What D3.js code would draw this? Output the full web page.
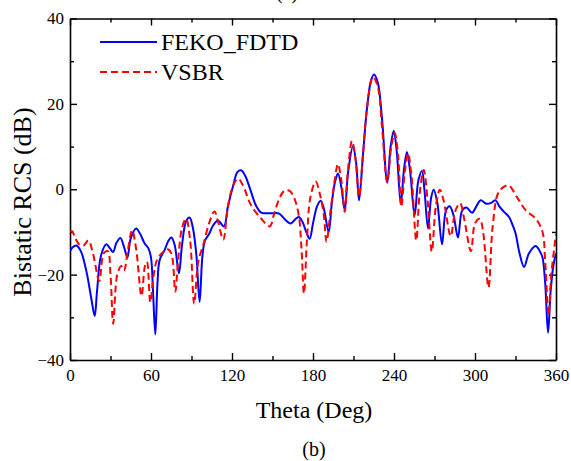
<!DOCTYPE html>
<html>
<head>
<meta charset="utf-8">
<script src="https://cdn.jsdelivr.net/npm/d3@7"></script>
<style>
  html, body { margin: 0; padding: 0; background: #fff; }
  svg { display: block; }
  text { font-family: "Liberation Serif", "Times New Roman", serif; fill: #000; }
</style>
</head>
<body>
<svg id="chart" width="571" height="461"></svg>
<script>
// ---- Data ----
const seriesNames = ["FEKO_FDTD", "VSBR"];
const xTicks = [0, 60, 120, 180, 240, 300, 360];
const yTicks = [-40, -20, 0, 20, 40];

const fekoTheta = [0, 2, 4.7, 8, 12, 16, 18.3, 20, 23, 26.9, 29.5, 31.9, 34.5, 37.3, 40, 42.5, 45, 49,
  52, 55.3, 58, 60, 61.5, 63.2, 64.8, 66.4, 70, 73, 75.1, 77.5, 80.7, 83, 86, 88.6, 91, 93.5, 96, 98,
  100, 103, 106, 109.6, 114, 117, 121, 124, 126.9, 130, 134, 138, 141.7, 145, 150, 155, 159, 163.5,
  167, 169.4, 172, 175, 177.5, 180, 183, 185.7, 188, 191.6, 194, 196.5, 198.5, 201, 203.5, 206, 209.6,
  212, 214.1, 217, 220, 223, 225.2, 228, 231, 235, 237.5, 239.8, 242, 245, 247.5, 249.6, 252, 255.3,
  258, 260.7, 262.5, 265.2, 267.5, 269.4, 272, 275.6, 278.5, 281.2, 284, 287.4, 290.5, 293.6, 297.8,
  301, 304.2, 308.4, 312, 315.3, 318, 321.5, 325.2, 328, 330.1, 333, 336.3, 340, 344.9, 348, 350, 352,
  354.1, 356, 358, 360];
const fekoRCS = [-14.5, -13.6, -13.2, -14.5, -19, -26, -29.7, -24, -15.5, -12.9, -13.8, -14.7, -12.5, -11.4, -13.5, -16, -11.5, -9.2,
  -10.5, -12.7, -13.8, -16, -24, -34, -22, -16.6, -14.3, -12, -11.3, -13, -19.7, -13, -7.5, -6.6, -9, -15, -26.4, -16,
  -12, -10.5, -8.5, -7.3, -8.7, -4, 1, 4, 4.4, 3, -0.5, -4, -5.5, -5.6, -5.6, -5.7, -7, -8,
  -7, -6.5, -7.5, -10, -11.6, -8, -4, -2.7, -4.5, -10, -3, 2, 3.7, 0.5, -4.9, 4, 10.1,
  6, -2.6, 8, 19, 25.5, 26.9, 25, 17, 1.5, 10, 13.7, 9, -3.4, 5, 8.7, 4, -6.1,
  2, 4.3, 0, -9.2, -2, -0.1, -3, -12.9, -5, -4, -6, -11.3, -5, -4.3, -5.5,
  -4, -2.6, -3.4, -3.2, -2.6, -4, -5.3, -6.5, -8.5, -10.4, -15, -18.2, -15, -13.3, -14.5, -16, -22,
  -33.6, -24, -18, -15];

const vsbrTheta = [0, 1.5, 4, 7, 10, 13.6, 17, 21.7, 25, 28, 30, 32, 35, 38, 40, 43, 46, 49, 53, 55.5, 57,
  59.5, 62, 64.5, 68, 72, 75, 78, 80, 83, 86, 89, 92, 95, 99, 103, 107, 110, 113.5, 117, 121, 124.5,
  128, 134, 141.7, 148, 151, 155, 159, 162.7, 166, 169.4, 171.5, 173.3, 175.5, 178, 182, 185, 188, 190,
  193, 196, 198.5, 201, 203.5, 205.5, 208.9, 211.5, 214.1, 217, 220, 224.4, 228, 231, 235, 238, 240.5,
  243, 245.4, 248, 250.4, 253, 256.5, 259, 262, 265, 268, 271, 274, 277, 282, 285.5, 289, 292, 297,
  300, 303.5, 306, 310, 313, 317, 321, 325, 331, 337.5, 345, 350, 352, 354.5, 356.5, 360];
const vsbrRCS = [-10, -9.8, -11.5, -13, -13.2, -12, -15, -21.5, -15, -14.5, -20, -31.5, -20, -18, -19, -14, -9.6, -14, -25, -18, -17,
  -26.5, -20, -16.5, -15, -14, -15, -24, -17, -9, -6.9, -12, -26.8, -17, -12.7, -8, -5.2, -8, -11.8, -4, 1, 2.5,
  1, -3.7, -6.9, -8.7, -6, -2.2, -0.3, -0.4, -2, -6, -14, -24.4, -12, -2, 1.8, -1, -6, -12.3,
  -5, 2, 5.9, 2, -5.3, 3, 11.3, 7, -1.8, 8, 19, 26.3, 24, 15, 1.7, 10, 13.2,
  8, -4.1, 4, 8.4, 3, -12, -1, 4.5, -3, -14.6, -4, -0.1, -3, -11, -5, -3.3, -7, -14.5,
  -8, -6.9, -10, -23, -9, -1, 0.5, 0.9, -1.8, -4.9, -6.9, -10, -17, -29.5, -20, -10.5];

// ---- Layout ----
const svg = d3.select("#chart");
const pL = 70, pR = 556, pT = 18.5, pB = 360;
const x = d3.scaleLinear().domain([0, 360]).range([pL, pR]);
const y = d3.scaleLinear().domain([-40, 40]).range([pB, pT]);

svg.append("defs").append("clipPath").attr("id", "clip")
  .append("rect").attr("x", pL).attr("y", pT).attr("width", pR - pL).attr("height", pB - pT);

// ---- Axes ----
const major = 7, minor = 4;
const xMinor = d3.range(30, 360, 60);
const yMinor = [-30, -10, 10, 30];

function styleAxis(g) {
  g.selectAll("path.domain").attr("stroke", "#000").attr("stroke-width", 1.6);
  g.selectAll(".tick line").attr("stroke", "#000").attr("stroke-width", 1.4);
}
function labelStyle(g) {
  g.selectAll("text").attr("font-size", 17).attr("font-family", "Liberation Serif").attr("fill", "#000");
}

const gx = svg.append("g").attr("transform", `translate(0,${pB})`)
  .call(d3.axisBottom(x).tickValues(xTicks).tickSizeInner(-major).tickSizeOuter(0).tickPadding(9).tickFormat(d3.format("d")));
styleAxis(gx); labelStyle(gx);
svg.append("g").attr("transform", `translate(0,${pB})`)
  .call(d3.axisBottom(x).tickValues(xMinor).tickSizeInner(-minor).tickSizeOuter(0).tickFormat(""))
  .call(g => g.select(".domain").remove()).call(styleAxis);

const gt = svg.append("g").attr("transform", `translate(0,${pT})`)
  .call(d3.axisTop(x).tickValues(xTicks).tickSizeInner(-major).tickSizeOuter(0).tickFormat(""));
styleAxis(gt);
svg.append("g").attr("transform", `translate(0,${pT})`)
  .call(d3.axisTop(x).tickValues(xMinor).tickSizeInner(-minor).tickSizeOuter(0).tickFormat(""))
  .call(g => g.select(".domain").remove()).call(styleAxis);

const gy = svg.append("g").attr("transform", `translate(${pL},0)`)
  .call(d3.axisLeft(y).tickValues(yTicks).tickSizeInner(-major).tickSizeOuter(0).tickPadding(6).tickFormat(d3.format("d")));
styleAxis(gy); labelStyle(gy);
svg.append("g").attr("transform", `translate(${pL},0)`)
  .call(d3.axisLeft(y).tickValues(yMinor).tickSizeInner(-minor).tickSizeOuter(0).tickFormat(""))
  .call(g => g.select(".domain").remove()).call(styleAxis);

const gr = svg.append("g").attr("transform", `translate(${pR},0)`)
  .call(d3.axisRight(y).tickValues(yTicks).tickSizeInner(-major).tickSizeOuter(0).tickFormat(""));
styleAxis(gr);
svg.append("g").attr("transform", `translate(${pR},0)`)
  .call(d3.axisRight(y).tickValues(yMinor).tickSizeInner(-minor).tickSizeOuter(0).tickFormat(""))
  .call(g => g.select(".domain").remove()).call(styleAxis);

// ---- Lines ----
const line = d3.line().x(d => x(d[0])).y(d => y(d[1])).curve(d3.curveCatmullRom.alpha(0.5));
const plot = svg.append("g").attr("clip-path", "url(#clip)");
plot.append("path").datum(d3.zip(fekoTheta, fekoRCS))
  .attr("d", line).attr("fill", "none").attr("stroke", "#0000ff").attr("stroke-width", 2);
plot.append("path").datum(d3.zip(vsbrTheta, vsbrRCS))
  .attr("d", line).attr("fill", "none").attr("stroke", "#ff0000").attr("stroke-width", 2)
  .attr("stroke-dasharray", "7,4");

// ---- Legend ----
const legend = svg.append("g");
const legendY = [42, 72];
const legendStyles = [{c: "#0000ff", dash: null}, {c: "#ff0000", dash: "7,4"}];
seriesNames.forEach((name, i) => {
  legend.append("line").attr("x1", 100).attr("x2", 157).attr("y1", legendY[i]).attr("y2", legendY[i])
    .attr("stroke", legendStyles[i].c).attr("stroke-width", 2)
    .attr("stroke-dasharray", legendStyles[i].dash);
  legend.append("text").attr("x", 161).attr("y", legendY[i] + 8).attr("font-size", 24).text(name);
});

// ---- Titles ----
svg.append("text").attr("x", 314).attr("y", 418).attr("text-anchor", "middle").attr("font-size", 24).text("Theta (Deg)");
svg.append("text").attr("transform", "translate(31,202) rotate(-90)").attr("text-anchor", "middle")
  .attr("font-size", 26).text("Bistatic RCS (dB)");
svg.append("text").attr("x", 314).attr("y", 456).attr("text-anchor", "middle").attr("font-size", 20).text("(b)");
svg.append("text").attr("x", 287).attr("y", -1).attr("text-anchor", "middle").attr("font-size", 20).text("(a)");
</script>
</body>
</html>
